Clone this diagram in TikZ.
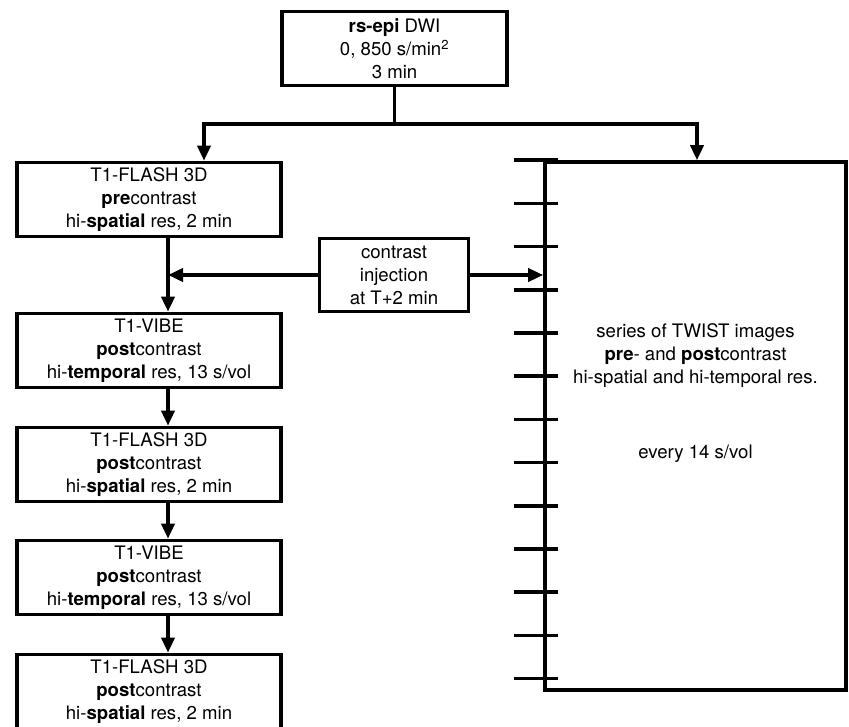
\documentclass[tikz,border=0pt]{standalone}
\usepackage{fontspec}
\setmainfont{TeX Gyre Heros}
\usetikzlibrary{arrows.meta,positioning}
\tikzset{
	seqbox/.style={draw,line width=3.6pt,align=center,inner sep=0pt,minimum width=264pt,minimum height=74pt},
	flow/.style={line width=3.6pt,-{Triangle[length=15pt,width=13pt]}},
	tick/.style={line width=3.6pt}
}
\begin{document}
\begin{tikzpicture}[x=1pt,y=-1pt]
\fontsize{18.6}{23}\selectfont
\useasboundingbox (0,0) rectangle (849,727);
\node[seqbox,minimum width=225pt] (dwi) at (394.5,48.5) {\textbf{rs-epi} DWI\\0, 850 s/min\textsuperscript{2}\\3 min};
\node[seqbox] (flash1) at (149,199.5) {T1-FLASH 3D\\\textbf{pre}contrast\\hi-\textbf{spatial} res, 2 min};
\node[seqbox] (vibe1) at (149,350.5) {T1-VIBE\\\textbf{post}contrast\\hi-\textbf{temporal} res, 13 s/vol};
\node[seqbox] (flash2) at (149,464.5) {T1-FLASH 3D\\\textbf{post}contrast\\hi-\textbf{spatial} res, 2 min};
\node[seqbox] (vibe2) at (149,577.5) {T1-VIBE\\\textbf{post}contrast\\hi-\textbf{temporal} res, 13 s/vol};
\node[seqbox] (flash3) at (149,691.5) {T1-FLASH 3D\\\textbf{post}contrast\\hi-\textbf{spatial} res, 2 min};
\node[seqbox,minimum width=149pt,minimum height=73pt] (inj) at (394,275) {contrast\\injection\\at T+2 min};
\node[draw,line width=3.6pt,minimum width=301pt,minimum height=528pt] (twist) at (695.5,426) {};
\node[align=center] (twisttxt) at (695.5,393) {series of TWIST images\\\textbf{pre}- and \textbf{post}contrast\\hi-spatial and hi-temporal res.\\[52pt]every 14 s/vol};
\coordinate (split) at (394.5,124);
\coordinate (splitl) at (204,124);
\coordinate (splitr) at (697,124);
\coordinate (spine) at (168,0);
\draw[tick] (dwi.south) -- (split);
\draw[flow] (split) -- (splitl) -- (splitl |- flash1.north);
\draw[flow] (split) -- (splitr) -- (splitr |- twist.north);
\draw[flow] (spine |- flash1.south) -- (spine |- vibe1.north);
\foreach \a/\b in {vibe1/flash2,flash2/vibe2,vibe2/flash3}{
	\draw[flow] (spine |- \a.south) -- (spine |- \b.north);}
\draw[flow] (inj.west) -- (inj.west -| spine);
\draw[flow] (inj.east) -- (inj.east -| twist.west);
\foreach \k in {0,...,12}{
	\draw[tick] ([shift={(-29,43.2*\k)}]twist.north west) -- ++(44,0);}
\end{tikzpicture}
\end{document}
